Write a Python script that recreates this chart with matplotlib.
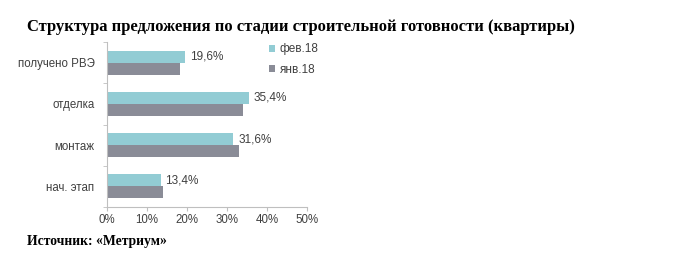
import matplotlib.pyplot as plt
import numpy as np

plt.rcParams["font.family"] = "Liberation Sans"

categories = ["получено РВЭ", "отделка", "монтаж", "нач. этап"]
feb_values = [19.6, 35.4, 31.6, 13.4]
jan_values = [18.3, 34.1, 33.1, 13.9]
feb_labels = ["19,6%", "35,4%", "31,6%", "13,4%"]
series_names = ["фев.18", "янв.18"]
x_ticks = [0, 10, 20, 30, 40, 50]

feb_color = "#92ccd4"
jan_color = "#8a8c97"
axis_color = "#bfbfbf"
text_color = "#404040"

fig = plt.figure(figsize=(7, 2.63), dpi=100)
ax = fig.add_axes([107 / 700, 1 - 207 / 263, 200 / 700, 165 / 263])

y = np.arange(len(categories))
h = 0.29
b1 = ax.barh(y - h / 2, feb_values, height=h, color=feb_color, label=series_names[0])
b2 = ax.barh(y + h / 2, jan_values, height=h, color=jan_color, label=series_names[1])

for rect, lab in zip(b1, feb_labels):
    ax.text(rect.get_width() + 1.2, rect.get_y() + rect.get_height() / 2, lab,
            va="center", ha="left", fontsize=8.5, color=text_color)

ax.set_ylim(len(categories) - 0.5, -0.5)
ax.set_xlim(0, 50)
ax.set_yticks(y)
ax.set_yticklabels(categories, fontsize=8.3, color=text_color)
ax.set_yticks(np.arange(len(categories) + 1) - 0.5, minor=True)
ax.tick_params(axis="y", which="major", length=0, pad=9)
ax.tick_params(axis="y", which="minor", length=3, color=axis_color, direction="out")
ax.set_xticks(x_ticks)
ax.set_xticklabels([f"{v}%" for v in x_ticks], fontsize=8.3, color=text_color)
ax.tick_params(axis="x", length=3, color=axis_color, pad=2)

for s in ["top", "right"]:
    ax.spines[s].set_visible(False)
for s in ["left", "bottom"]:
    ax.spines[s].set_color(axis_color)
    ax.spines[s].set_linewidth(0.8)

fig.legend(handles=[b1, b2], loc="upper left", bbox_to_anchor=(267 / 700, 1 - 41 / 263),
           frameon=False, fontsize=8.5, handlelength=0.5, handleheight=0.5,
           labelspacing=0.7, handletextpad=0.4, labelcolor=text_color,
           borderaxespad=0, borderpad=0.2)

fig.text(27 / 700, 1 - 27 / 263, "Структура предложения по стадии строительной готовности (квартиры)",
         fontfamily="Liberation Serif", fontweight="bold", fontsize=12, va="center", ha="left")
fig.text(27 / 700, 1 - 241 / 263, "Источник: «Метриум»",
         fontfamily="Liberation Serif", fontweight="bold", fontsize=9.8, va="center", ha="left")

fig.savefig("out.png", dpi=100)
